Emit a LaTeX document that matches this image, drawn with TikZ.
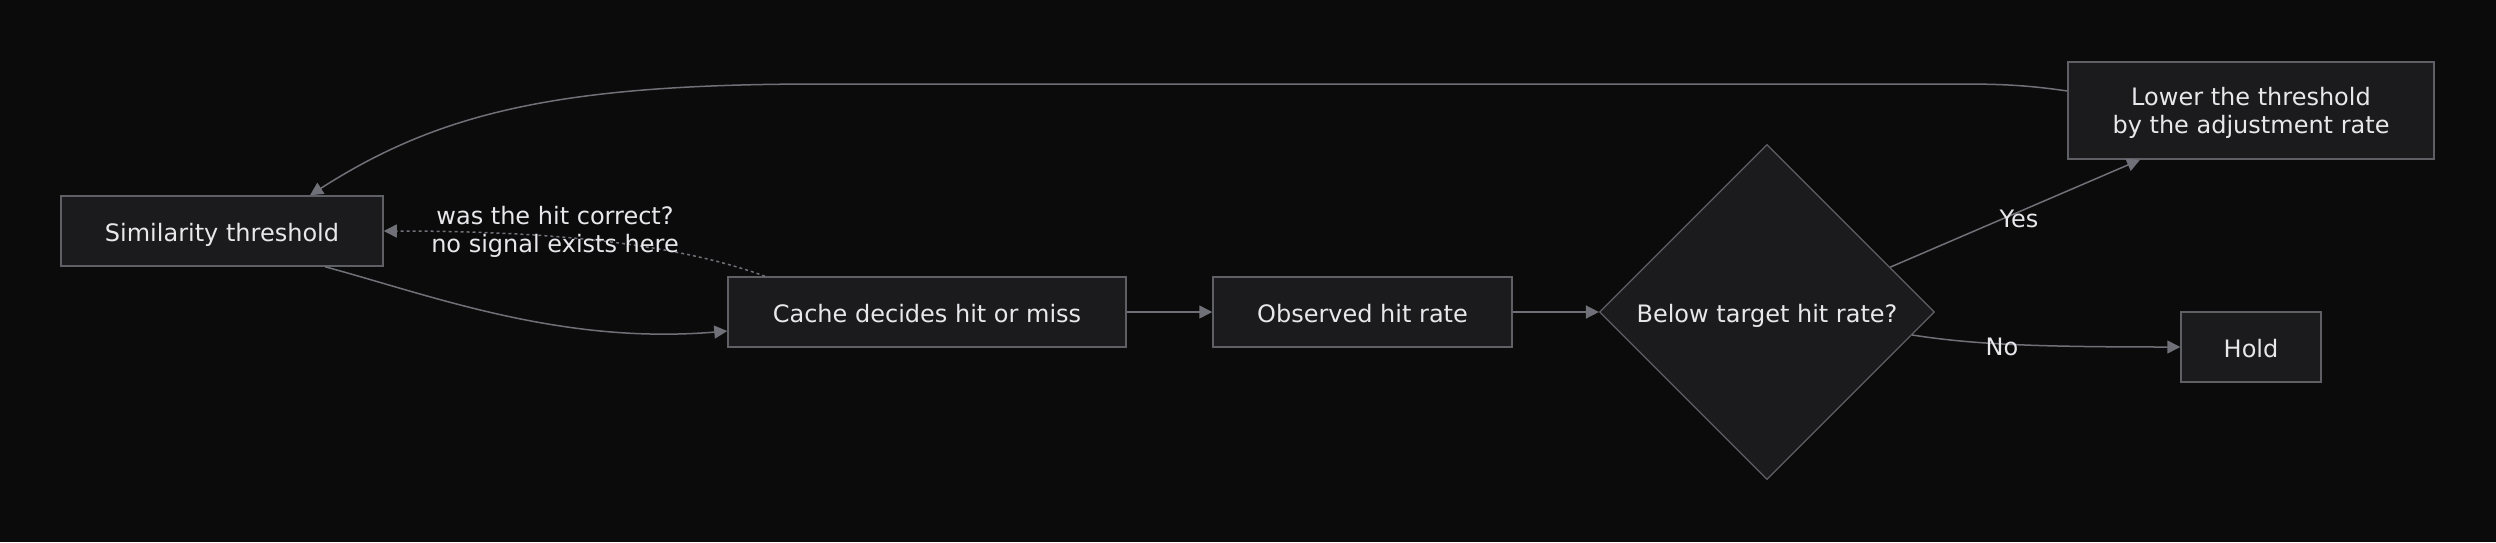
\documentclass[tikz,border=0pt]{standalone}
\usepackage{fontspec}
\setmainfont{DejaVu Sans}
\usetikzlibrary{shapes.geometric,arrows.meta}

\definecolor{bgcol}{RGB}{11,11,11}
\definecolor{nodefill}{RGB}{27,27,30}
\definecolor{nodeline}{RGB}{95,95,102}
\definecolor{edgecol}{RGB}{112,112,120}
\definecolor{txtcol}{RGB}{232,232,236}

\begin{document}
\begin{tikzpicture}[x=1pt,y=-1pt,
    every node/.style={text=txtcol,font=\fontsize{24}{28}\selectfont,align=center},
    box/.style={draw=nodeline,fill=nodefill,line width=1.5pt,minimum height=70pt,inner sep=0pt},
    oneline/.style={text height=21.5pt,text depth=0pt},
    decision/.style={diamond,draw=nodeline,fill=nodefill,line width=1.2pt,
        minimum width=335pt,minimum height=335pt,inner sep=0pt},
    flow/.style={draw=edgecol,line width=1.5pt,-{Triangle[length=13pt,width=13pt]}}]
    \fill[bgcol] (0,0) rectangle (2496,542);

    \node[box,oneline,minimum width=322pt] (sim) at (222,231) {Similarity threshold};
    \node[box,oneline,minimum width=398pt] (cache) at (927,312) {Cache decides hit or miss};
    \node[box,oneline,minimum width=299pt] (obs) at (1362.5,312) {Observed hit rate};
    \node[decision,oneline] (dec) at (1767,312) {Below target hit rate?};
    \node[box,text depth=0pt,minimum width=366pt,minimum height=97pt] (lower) at (2251,110.5)
        {Lower the threshold\\by the adjustment rate};
    \node[box,oneline,minimum width=140pt] (hold) at (2251,347) {Hold};

    \draw[flow] ([xshift=103pt]sim.south) .. controls (430,295) and (560,345) .. ([yshift=-19pt]cache.west);
    \draw[flow,dash pattern=on 3pt off 3pt] ([xshift=-162pt]cache.north)
        .. controls (680,245) and (560,231) .. (sim.east);
    \draw[flow] (cache.east) -- (obs.west);
    \draw[flow] (obs.east) -- (dec.west);
    \draw[flow] (dec.20) -- ([xshift=-111pt]lower.south);
    \draw[flow] (dec.-9) .. controls (1970,344) and (2030,347) .. (hold.west);
    % back to the threshold
    \draw[flow] ([yshift=19.5pt]lower.west) .. controls (2020,84) and (1990,84) .. (1950,84)
        -- (820,84) .. controls (560,84) and (440,112) .. ([xshift=88pt]sim.north);

    \node (hitq) at (555,232) {was the hit correct?\\no signal exists here};
    \node (yes) at (2019,219) {Yes};
    \node (no) at (2002,347) {No};
\end{tikzpicture}
\end{document}
